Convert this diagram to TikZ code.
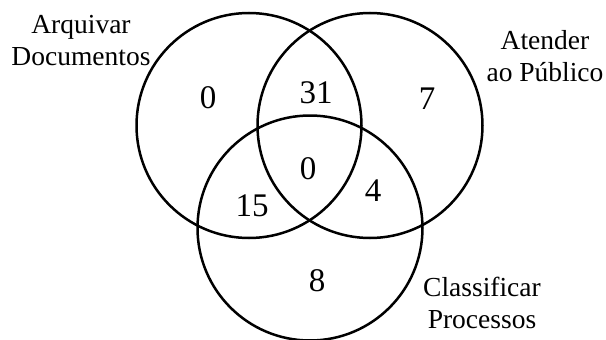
\documentclass[tikz,border=0pt]{standalone}
\usepackage{fontspec}
\setmainfont{Liberation Serif}
\begin{document}
\begin{tikzpicture}[x=1pt,y=-1pt,
  vset/.style={draw=black,line width=2.5pt},
  lbl/.style={font=\fontsize{27.5}{32}\selectfont,align=center,inner sep=0pt},
  num/.style={font=\fontsize{33}{38}\selectfont,inner sep=0pt}]
\useasboundingbox (0,0) rectangle (606,340);
\draw[vset] (249,125.5) circle (112.5);
\draw[vset] (370,125.5) circle (112.5);
\draw[vset] (310,228) circle (112.5);
\node[lbl] (la) at (81,41) {Arquivar\\Documentos};
\node[lbl] (lb) at (545,56) {Atender\\ao Público};
\node[lbl] (lc) at (482,303) {Classificar\\Processos};
\node[num] (n1) at (208,98) {0};
\node[num] (n2) at (316,93) {31};
\node[num] (n3) at (427,99) {7};
\node[num] (n4) at (308,169) {0};
\node[num] (n5) at (252,206) {15};
\node[num] (n6) at (373,191) {4};
\node[num] (n7) at (317,281) {8};
\end{tikzpicture}
\end{document}
